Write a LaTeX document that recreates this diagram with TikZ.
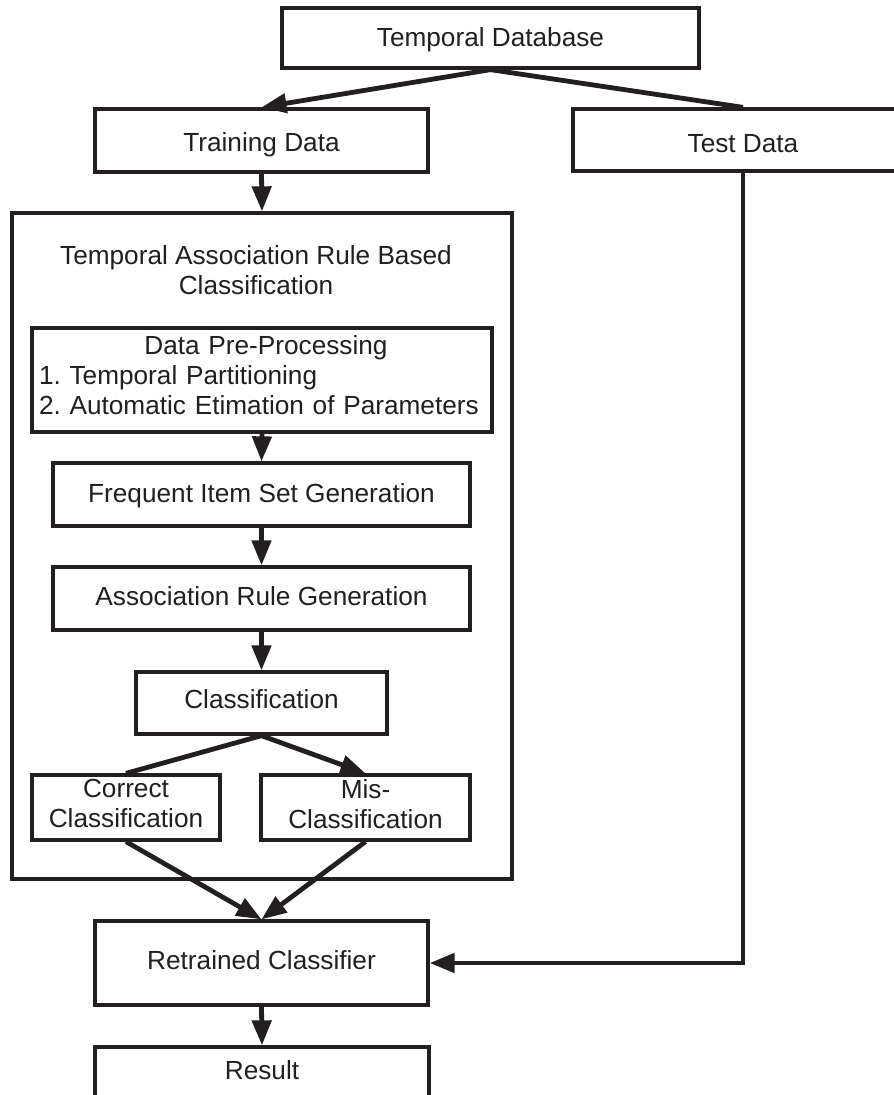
\documentclass[tikz,border=0pt]{standalone}
\usepackage{fontspec}
\setmainfont{Liberation Sans}
\usetikzlibrary{arrows.meta}
\definecolor{ink}{HTML}{231F20}
\frenchspacing
\begin{document}
\begin{tikzpicture}[x=1pt,y=-1pt,
  box/.style={draw=ink, line width=3.3pt, rectangle, inner sep=0pt, text=ink,
    font=\fontsize{26.2}{30}\selectfont, align=center},
  one/.style={text height=19pt, text depth=#1},
  one/.default=4pt,
  txt/.style={inner sep=0pt, text=ink, font=\fontsize{26.2}{30}\selectfont, align=center},
  conn/.style={draw=ink, line width=4.8pt},
  arr/.style={conn, -{Triangle[length=25pt,width=19pt]}}
]
\useasboundingbox (0,0) rectangle (894,1095);
\fill[white] (0,0) rectangle (894,1095);
\begin{scope}
\clip (0,0) rectangle (894,1095);
% boxes
\node[box, one=1.6pt, minimum width=417pt, minimum height=60pt] (tdb) at (490.5,38) {Temporal Database};
\node[box, one=0pt, text height=22.4pt, minimum width=333pt, minimum height=63pt] (train) at (261.5,140.5) {Training Data};
\node[box, one=0pt, text height=24pt, minimum width=340pt, minimum height=62pt] (test) at (743,140) {Test Data};
\node[box, minimum width=500pt, minimum height=666pt] (big) at (262,546) {};
\node[txt] (title) at (256,270.5) {Temporal Association Rule Based\\Classification};
\node[box, align=left, text width=446pt, inner xsep=7pt, minimum width=460pt, minimum height=104pt] (dpp) at (262,380)
  {\makebox[446pt][c]{\hspace{8pt}Data Pre-Processing}\\1. Temporal Partitioning\\2. Automatic Etimation of Parameters\rule[-9pt]{0pt}{9pt}};
\node[box, one=3.8pt, minimum width=417pt, minimum height=63pt] (fisg) at (261.5,494.5) {Frequent Item Set Generation};
\node[box, one=4.4pt, minimum width=417pt, minimum height=63pt] (arg) at (261.5,598.5) {Association Rule Generation};
\node[box, one=8.4pt, minimum width=251pt, minimum height=62pt] (cls) at (261.5,703) {Classification};
\node[box, minimum width=188pt, minimum height=65pt] (corr) at (126,807.5) {Correct\\Classification\rule[-8pt]{0pt}{8pt}};
\node[box, minimum width=209pt, minimum height=65pt] (mis) at (365.5,807.5) {Mis-\\Classification\rule[-8pt]{0pt}{8pt}};
\node[box, one=7pt, minimum width=333pt, minimum height=84pt] (retr) at (261.5,963) {Retrained Classifier};
\node[box, one=45pt, minimum width=334pt, minimum height=90pt] (res) at (262,1092) {Result};
% connectors
\draw[arr] (tdb.south) -- (train.north);
\draw[conn] (tdb.south) -- (test.north);
\draw[arr] (train.south) -- (big.north);
\draw[arr] (dpp.south) -- (fisg.north);
\draw[arr] (fisg.south) -- (arg.north);
\draw[arr] (arg.south) -- (cls.north);
\draw[conn] (cls.south) -- (corr.north);
\draw[arr] (cls.south) -- (mis.north);
\draw[arr] (corr.south) -- (retr.north);
\draw[arr] (mis.south) -- (retr.north);
\draw[arr] (test.south) |- (retr.east);
\draw[arr] (retr.south) -- (res.north);
\end{scope}
\end{tikzpicture}
\end{document}
